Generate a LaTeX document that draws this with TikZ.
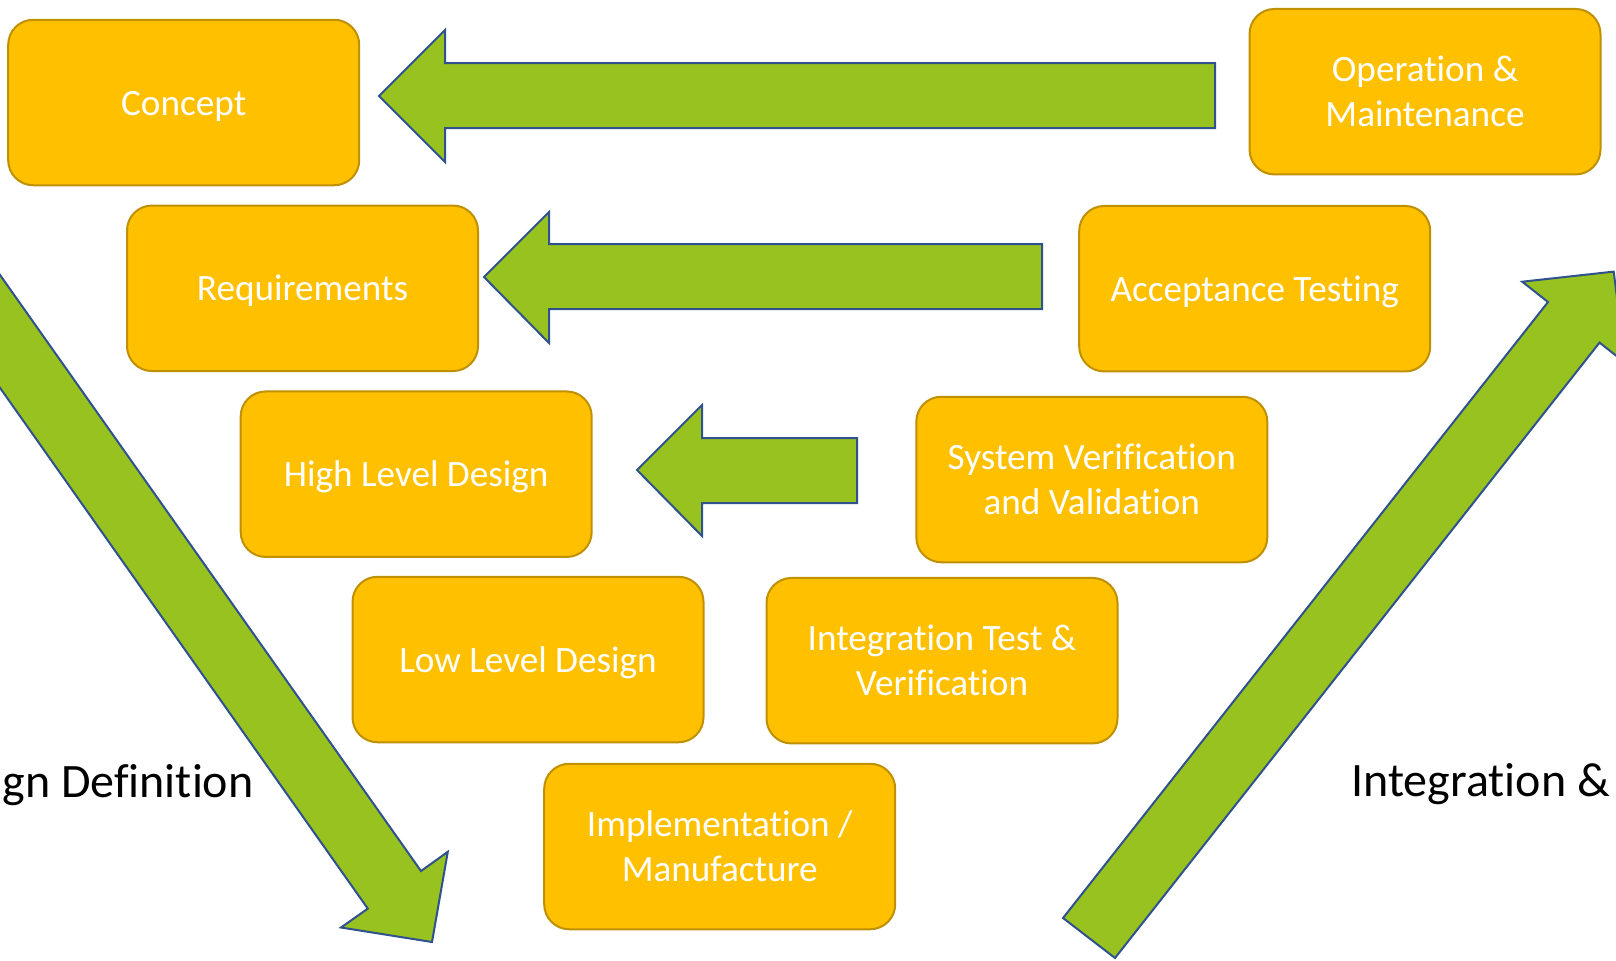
\documentclass[tikz,border=0pt]{standalone}
\usepackage{fontspec}
\setmainfont{Carlito}[Ligatures=NoCommon]
\usepackage{xcolor}
\usepackage{tikz}
\definecolor{stagefill}{HTML}{FFC000}
\definecolor{stageline}{HTML}{BF9000}
\definecolor{arrowfill}{HTML}{98C21F}
\definecolor{arrowline}{HTML}{2F528F}
\tikzset{
  stage/.style={draw=stageline, fill=stagefill, line width=1pt,
                rounded corners=12.5pt, minimum width=175.5pt,
                minimum height=82.75pt, align=center, text=white,
                font=\fontsize{18.6}{22.5}\selectfont},
  oneline/.style={text height=18pt, text depth=5.5pt},
  bigarrow/.style={draw=arrowline, fill=arrowfill, line width=1pt,
                   line join=miter},
  phase/.style={inner sep=0pt, text=black,
                font=\fontsize{24}{29}\selectfont}
}

\begin{document}
\begin{tikzpicture}[x=0.5pt, y=-0.5pt]
    \useasboundingbox (0,0) rectangle (1616,960);
    \clip (0,0) rectangle (1616,960);

    % left leg of the V
    \node[stage, oneline] (concept) at (183.7,102.5) {Concept};
    \node[stage, oneline] (req)     at (302.5,288.3) {Requirements};
    \node[stage, oneline] (hld)     at (416.2,474.2) {High Level Design};
    \node[stage, oneline] (lld)     at (528,659.5)   {Low Level Design};
    \node[stage] (impl)    at (719.7,846.5) {Implementation /\\Manufacture};

    % right leg of the V
    \node[stage] (itv)     at (942,660.7)    {Integration Test \&\\Verification};
    \node[stage] (svv)     at (1091.8,479.5) {System Verification\\and Validation};
    \node[stage, oneline] (acc) at (1254.7,288.7) {Acceptance Testing};
    \node[stage] (ops)     at (1425,91.7)    {Operation \&\\Maintenance};

    % feedback arrows
    \draw[bigarrow] (1215,63) -- (445,63) -- (445,30) -- (379,96)
        -- (445,162) -- (445,128) -- (1215,128) -- cycle;
    \draw[bigarrow] (1042,244) -- (549,244) -- (549,212) -- (484,277)
        -- (549,343) -- (549,309) -- (1042,309) -- cycle;
    \draw[bigarrow] (857,438) -- (702,438) -- (702,405) -- (637,470)
        -- (702,536) -- (702,503) -- (857,503) -- cycle;

    % down and up arrows
    \draw[bigarrow] (-40.6,217.4) -- (421,871) -- (447.8,851.8) -- (432,942)
        -- (341,927.5) -- (367.8,908.6) -- (-93.8,255) -- cycle;
    \draw[bigarrow] (1063,918) -- (1548,302) -- (1522.2,281.7) -- (1613.7,271.6)
        -- (1625.3,362.9) -- (1599.5,342.6) -- (1115,958) -- cycle;

    % phase labels
    \node[phase, anchor=base west] (design) at (2,797)    {gn Definition};
    \node[phase, anchor=base west] (integ)  at (1351,796) {Integration \&};
\end{tikzpicture}
\end{document}
